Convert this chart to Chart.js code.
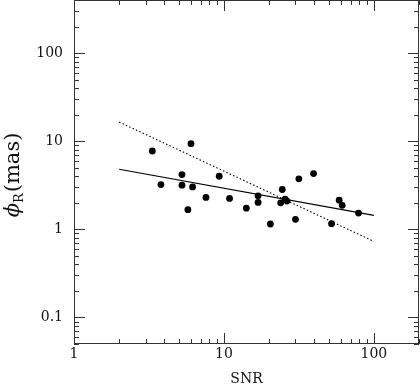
<!DOCTYPE html>
<html>
<head>
<meta charset="utf-8" />
<title>phi_R vs SNR</title>
<style>
  body { margin: 0; background: #fff; }
</style>
</head>
<body>
<canvas id="chart1" width="420" height="386"></canvas>
<script src="https://cdn.jsdelivr.net/npm/chart.js@4/dist/chart.umd.min.js"></script>
<script>
// SNR of each source
var snr = [3.33, 3.8, 5.25, 5.25, 6.03, 5.75, 6.18, 7.59, 9.3, 10.9, 14.1, 16.9, 16.9,
  20.4, 23.9, 24.5, 25.6, 26.3, 30.0, 31.6, 39.6, 52.2, 58.7, 61.5, 79.0];
// phi_R in mas
var phiR = [7.74, 3.22, 4.18, 3.17, 9.37, 1.67, 3.03, 2.30, 4.0, 2.24, 1.74, 2.40, 2.02,
  1.15, 2.0, 2.83, 2.20, 2.09, 1.30, 3.74, 4.29, 1.16, 2.14, 1.87, 1.53];

// fit lines, end points
var fitX = [2, 100];
var fitSolid = [4.81, 1.44];
var fitDotted = [16.5, 0.73];

// tick labels
var xLabels = [1, 10, 100];
var yLabels = [0.1, 1, 10, 100];

var serif = "DejaVu Serif";

function pts(xs, ys) {
  var out = [];
  for (var i = 0; i < xs.length; i++) out.push({ x: xs[i], y: ys[i] });
  return out;
}

function noPad(s) {
  s.paddingTop = 0;
  s.paddingBottom = 0;
  s.paddingLeft = 0;
  s.paddingRight = 0;
}

// inward ticks on all four sides + frame + axis titles
var frame = {
  id: "frame",
  afterDraw: function (chart) {
    var ctx = chart.ctx;
    var a = chart.chartArea;
    var xs = chart.scales.x, ys = chart.scales.y;
    ctx.save();
    ctx.strokeStyle = "#333";
    ctx.lineWidth = 1;
    ctx.strokeRect(a.left + 0.5, a.top + 0.5, a.right - a.left - 1, a.bottom - a.top - 1);

    ctx.beginPath();
    // x ticks
    for (var d = 1; d <= 100; d *= 10) {
      for (var k = 1; k <= 9; k++) {
        var v = d * k;
        if (v > xs.max) break;
        var px = Math.round(xs.getPixelForValue(v)) + 0.5;
        var len = k === 1 ? 11 : 5;
        ctx.moveTo(px, a.bottom);
        ctx.lineTo(px, a.bottom - len);
        ctx.moveTo(px, a.top);
        ctx.lineTo(px, a.top + len);
      }
    }
    // y ticks
    for (var e = 0.01; e <= 100; e *= 10) {
      for (var j = 1; j <= 9; j++) {
        var w = e * j;
        if (w < ys.min * 0.999 || w > ys.max) continue;
        var py = Math.round(ys.getPixelForValue(w)) + 0.5;
        var l2 = j === 1 ? 11 : 5;
        ctx.moveTo(a.left, py);
        ctx.lineTo(a.left + l2, py);
        ctx.moveTo(a.right, py);
        ctx.lineTo(a.right - l2, py);
      }
    }
    ctx.stroke();

    // x title
    ctx.fillStyle = "#111";
    ctx.font = "14px '" + serif + "'";
    ctx.textAlign = "center";
    ctx.textBaseline = "alphabetic";
    ctx.fillText("SNR", (a.left + a.right) / 2, 383);

    // y title: phi_R(mas)
    ctx.translate(19, 175);
    ctx.rotate(-Math.PI / 2);
    ctx.textAlign = "left";
    var fBig = "21px '" + serif + "'";
    var fPhi = "italic 21px '" + serif + "'";
    var fSub = "13px '" + serif + "'";
    ctx.font = fPhi;
    var w1 = ctx.measureText("\u03D5").width;
    ctx.font = fSub;
    var w2 = ctx.measureText("R").width;
    ctx.font = fBig;
    var w3 = ctx.measureText("(mas)").width;
    var x0 = -(w1 + w2 + w3 + 1) / 2;
    ctx.font = fPhi;
    ctx.fillText("\u03D5", x0, 0);
    ctx.font = fSub;
    ctx.fillText("R", x0 + w1, 4);
    ctx.font = fBig;
    ctx.fillText("(mas)", x0 + w1 + w2 + 1, 0);
    ctx.restore();
  }
};

var ctx1 = document.getElementById("chart1");
var chart1 = new Chart(ctx1, {
  type: "scatter",
  data: {
    datasets: [
      {
        label: "sources",
        data: pts(snr, phiR),
        backgroundColor: "#000",
        borderColor: "#000",
        pointRadius: 3.4,
        pointBorderWidth: 0
      },
      {
        label: "fit",
        data: pts(fitX, fitSolid),
        showLine: true,
        borderColor: "#000",
        borderWidth: 1.1,
        pointRadius: 0
      },
      {
        label: "fit2",
        data: pts(fitX, fitDotted),
        showLine: true,
        borderColor: "#000",
        borderWidth: 1.1,
        borderDash: [1.5, 2.2],
        pointRadius: 0
      }
    ]
  },
  options: {
    responsive: false,
    animation: false,
    devicePixelRatio: 1,
    layout: { autoPadding: false, padding: { top: 0, right: 1, bottom: 0, left: 0 } },
    plugins: { legend: { display: false }, tooltip: { enabled: false } },
    scales: {
      x: {
        type: "logarithmic",
        min: 1,
        max: 200,
        grid: { display: false, drawTicks: false },
        border: { display: false },
        afterBuildTicks: function (s) {
          s.ticks = xLabels.map(function (v) { return { value: v }; });
        },
        afterFit: function (s) { s.height = 42; noPad(s); },
        ticks: {
          padding: 2,
          maxRotation: 0,
          autoSkip: false,
          color: "#111",
          font: { family: serif, size: 14 },
          callback: function (v) { return String(v); }
        }
      },
      y: {
        type: "logarithmic",
        min: 0.05,
        max: 400,
        grid: { display: false, drawTicks: false },
        border: { display: false },
        afterBuildTicks: function (s) {
          s.ticks = yLabels.map(function (v) { return { value: v }; });
        },
        afterFit: function (s) { s.width = 74; noPad(s); },
        ticks: {
          padding: 11,
          autoSkip: false,
          color: "#111",
          font: { family: serif, size: 14 },
          callback: function (v) { return String(v); }
        }
      }
    }
  },
  plugins: [frame]
});
</script>
</body>
</html>
